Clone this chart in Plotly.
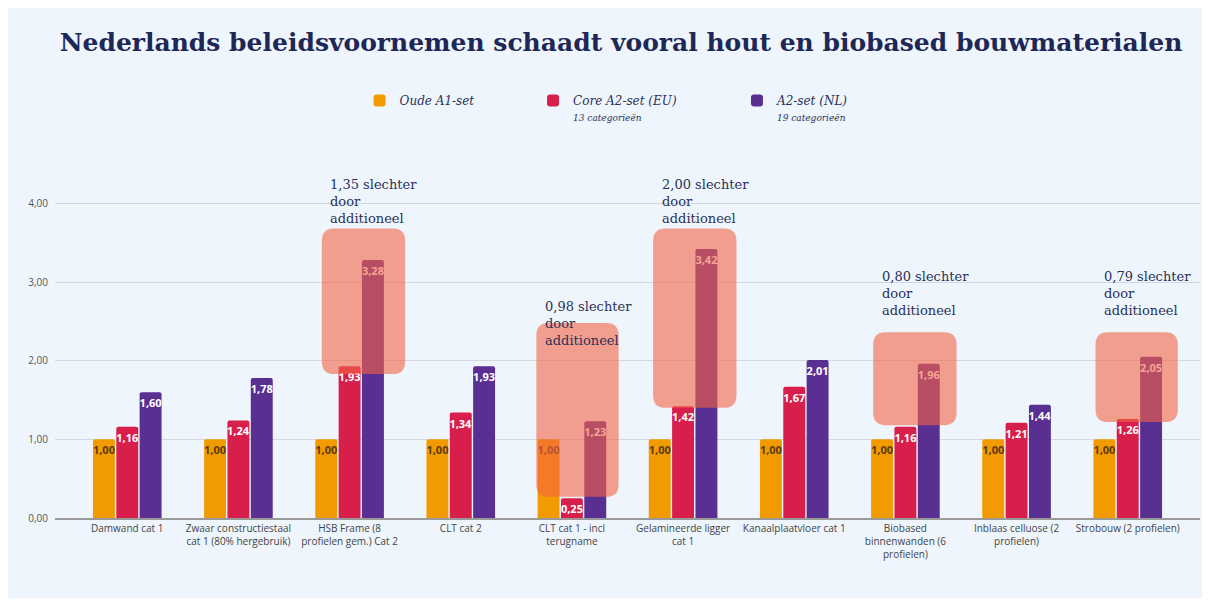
import plotly.graph_objects as go

categories = [
    "Damwand cat 1",
    "Zwaar constructiestaal<br>cat 1 (80% hergebruik)",
    "HSB Frame (8<br>profielen gem.) Cat 2",
    "CLT cat 2",
    "CLT cat 1 - incl<br>terugname",
    "Gelamineerde ligger<br>cat 1",
    "Kanaalplaatvloer cat 1",
    "Biobased<br>binnenwanden (6<br>profielen)",
    "Inblaas celluose (2<br>profielen)",
    "Strobouw (2 profielen)",
]
oude_a1 = [1.00, 1.00, 1.00, 1.00, 1.00, 1.00, 1.00, 1.00, 1.00, 1.00]
core_a2_eu = [1.16, 1.24, 1.93, 1.34, 0.25, 1.42, 1.67, 1.16, 1.21, 1.26]
a2_nl = [1.60, 1.78, 3.28, 1.93, 1.23, 3.42, 2.01, 1.96, 1.44, 2.05]

series_names = [
    "<i>Oude A1-set</i>",
    "<i>Core A2-set (EU)</i><br><span style='font-size:9px'><i>13 categorieën</i></span>",
    "<i>A2-set (NL)</i><br><span style='font-size:9px'><i>19 categorieën</i></span>",
]
colors = ["#f29b00", "#d81f4b", "#5a2f92"]
text_colors = ["#5a3a10", "#ffffff", "#ffffff"]
legend_ids = ["legend", "legend2", "legend3"]
legend_x = [0.266, 0.4175, 0.5956]

# highlight boxes: category index, x offsets, y range
highlight_idx = [2, 4, 5, 7, 9]
highlight_text = ["1,35 slechter", "0,98 slechter", "2,00 slechter", "0,80 slechter", "0,79 slechter"]
box_x0 = [1.75, 3.68, 4.73, 6.71, 8.71]
box_x1 = [2.50, 4.42, 5.48, 7.46, 9.45]
box_y0 = [1.83, 0.27, 1.40, 1.18, 1.22]
box_y1 = [3.68, 2.48, 3.68, 2.36, 2.36]
label_y = [4.36, 2.81, 4.36, 3.19, 3.19]

def fmt(v):
    return f"{v:.2f}".replace(".", ",")

fig = go.Figure()
x = list(range(len(categories)))
for name, vals, col, tcol, lid in zip(series_names, [oude_a1, core_a2_eu, a2_nl], colors, text_colors, legend_ids):
    fig.add_trace(go.Bar(
        x=x, y=vals, name=name, marker_color=col, marker_line_width=0,
        legend=lid, showlegend=True,
        text=[f"<b>{fmt(v)}</b>" for v in vals], textposition="inside", insidetextanchor="end",
        textangle=0,
        textfont=dict(family="Open Sans", size=11, color=tcol),
        hoverinfo="skip",
    ))

shapes = []
# outer light-blue panel
shapes.append(dict(type="rect", xref="paper", yref="paper", x0=-0.0437, x1=1.0044,
                   y0=-0.226, y1=1.449, fillcolor="#eef5fd", line_width=0, layer="below"))

rx, ry = 0.11, 0.16
for x0, x1, y0, y1 in zip(box_x0, box_x1, box_y0, box_y1):
    path = (f"M {x0+rx},{y0} L {x1-rx},{y0} Q {x1},{y0} {x1},{y0+ry} "
            f"L {x1},{y1-ry} Q {x1},{y1} {x1-rx},{y1} L {x0+rx},{y1} "
            f"Q {x0},{y1} {x0},{y1-ry} L {x0},{y0+ry} Q {x0},{y0} {x0+rx},{y0} Z")
    shapes.append(dict(type="path", xref="x", yref="y", path=path,
                       fillcolor="rgba(245,100,70,0.6)", line_width=0, layer="above"))

annotations = []
for xi, txt, ly, bx in zip(highlight_idx, highlight_text, label_y, box_x0):
    annotations.append(dict(
        x=bx + 0.06, y=ly, xref="x", yref="y", xanchor="left", yanchor="top",
        align="left", showarrow=False,
        text=f"{txt}<br>door<br>additioneel",
        font=dict(family="DejaVu Serif", size=13, color="#2a3157"),
    ))

legend_style = dict(orientation="h", xanchor="left", y=1.22, yanchor="top",
                    valign="top", font=dict(family="DejaVu Serif", size=12, color="#2a3157"),
                    bgcolor="rgba(0,0,0,0)")

fig.update_layout(
    width=1202, height=598,
    margin=dict(l=47, r=10, t=156, b=88, autoexpand=False),
    paper_bgcolor="#ffffff", plot_bgcolor="rgba(0,0,0,0)",
    separators=",.", showlegend=True,
    barmode="group", bargap=0.37, bargroupgap=0.06, barcornerradius=2,
    title=dict(text="<b>Nederlands beleidsvoornemen schaadt vooral hout en biobased bouwmaterialen</b>",
               x=0.51, xref="container", xanchor="center", y=0.943, yref="container", yanchor="middle",
               font=dict(family="DejaVu Serif", size=25, color="#1e2756")),
    legend=dict(x=legend_x[0], **legend_style),
    legend2=dict(x=legend_x[1], **legend_style),
    legend3=dict(x=legend_x[2], **legend_style),
    uniformtext=dict(minsize=10, mode="show"),
    shapes=shapes, annotations=annotations,
    xaxis=dict(tickmode="array", tickvals=x, ticktext=categories, range=[-0.65, 9.65],
               tickfont=dict(family="Open Sans", size=10, color="#444444"),
               showgrid=False, showline=True, linecolor="#9a9a9a", linewidth=1.5,
               ticks="", automargin=False),
    yaxis=dict(range=[0, 4.5], tickvals=[0, 1, 2, 3, 4], tickformat=".2f",
               tickfont=dict(family="Open Sans", size=10, color="#555555"),
               gridcolor="#d3d8de", gridwidth=1, zeroline=False, showline=False,
               ticklabelstandoff=6, automargin=False),
)
fig.write_html("out.html")
